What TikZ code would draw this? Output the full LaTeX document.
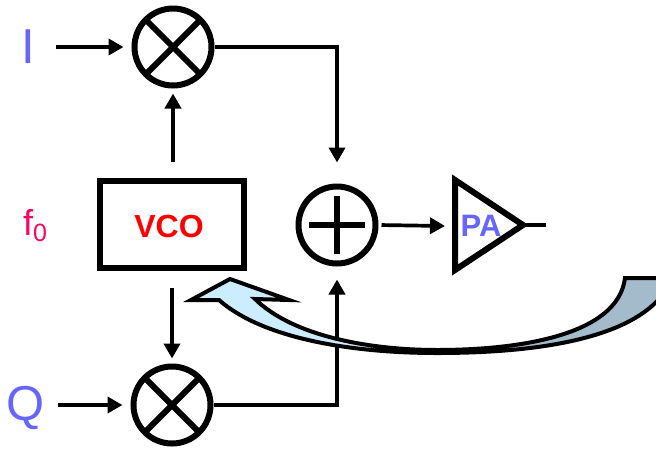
\documentclass[tikz,border=0pt]{standalone}
\usepackage{fontspec}
\setmainfont{Liberation Sans}
\usetikzlibrary{arrows.meta,calc}
\definecolor{inblue}{HTML}{6666FF}
\definecolor{fpink}{HTML}{FF0066}
\definecolor{bandfront}{HTML}{CCECFF}
\definecolor{bandback}{HTML}{A3BBCB}
\tikzset{
  wire/.style={line width=3.7pt},
  mixer/.style={draw,circle,line width=6pt,minimum size=77pt,inner sep=0pt,
    path picture={\draw[line width=6pt] (path picture bounding box.north west)--(path picture bounding box.south east)
      (path picture bounding box.north east)--(path picture bounding box.south west);}},
  adder/.style={draw,circle,line width=6pt,minimum size=77pt,inner sep=0pt},
  vcobox/.style={draw,rectangle,line width=6pt,minimum width=144pt,minimum height=87pt,inner sep=0pt},
  biglabel/.style={text=inblue,font=\fontsize{49}{49}\selectfont,inner sep=0pt},
  boldlabel/.style={font=\fontsize{#1}{#1}\selectfont\bfseries,inner sep=0pt},
}
\begin{document}
\begin{tikzpicture}[x=1pt,y=-1pt,>={Stealth[length=15pt,width=16pt,inset=0pt]}]
\useasboundingbox (0,0) rectangle (656,451);
\clip (0,0) rectangle (656,451);
\node[mixer] (mixi) at (173,47) {};
\node[mixer] (mixq) at (172,405) {};
\node[adder] (sum) at (337,225) {};
\draw[line width=6pt] ($(sum)+(-28,0)$)--($(sum)+(28,0)$) ($(sum)+(0,-29)$)--($(sum)+(0,29)$);
\node[vcobox] (vco) at (172,224) {};
\node[boldlabel=32,text=red] (labv) at (169,226) {VCO};
\node[biglabel] (labi) at (28,47) {I};
\node[biglabel] (labq) at (26,408) {Q};
\node[text=fpink,inner sep=0pt,font=\fontsize{36}{36}\selectfont] (labf) at (35,226) {f\raisebox{-6pt}{\fontsize{25}{25}\selectfont 0}};
\coordinate (ini) at (56,47);
\coordinate (inq) at (58,405);
\coordinate (paa) at (455,180);
\coordinate (pab) at (455,270);
\coordinate (pac) at (523,225);
\coordinate (pain) at (445,226);
\coordinate (paout) at (546,225);
\draw[line width=6pt] (paa)--(pab)--(pac)--cycle;
\node[boldlabel=31,text=inblue] (pa) at (481,226) {PA};
\draw[->,wire,shorten >=8pt] (ini)--(mixi.west);
\draw[->,wire,shorten >=8pt] (inq)--(mixq.west);
\draw[->,wire,shorten <=16pt,shorten >=5pt] (vco.north-|mixi)--(mixi.south);
\draw[->,wire,shorten <=17pt,shorten >=5pt] (vco.south)--(mixq.north);
\draw[->,wire,shorten >=21pt] (mixi.east)-|(sum.north);
\draw[->,wire,shorten >=13pt] (mixq.east)-|(sum.south);
\draw[->,wire,shorten <=3pt] (sum.east)--(pain);
\draw[wire] (pac)--(paout);
\fill[bandfront] (219,300)--(191,300)--(230,279)--(289,300)--(255,299) .. controls (295,338) and (375,350) .. (437,350)--(437,353) .. controls (350,353) and (262,338) .. (219,300)--cycle;
\fill[bandback] (437,350) .. controls (520,350) and (618,335) .. (625,278)--(660,278)--(660,298) .. controls (625,338) and (540,353) .. (437,353)--cycle;
\draw[line width=4pt,line join=miter] (660,278)--(625,278) .. controls (618,335) and (520,350) .. (437,350) .. controls (375,350) and (295,338) .. (255,299)--(289,300)--(230,279)--(191,300)--(219,300) .. controls (262,338) and (350,353) .. (437,353) .. controls (540,353) and (625,338) .. (660,298);
\end{tikzpicture}
\end{document}
